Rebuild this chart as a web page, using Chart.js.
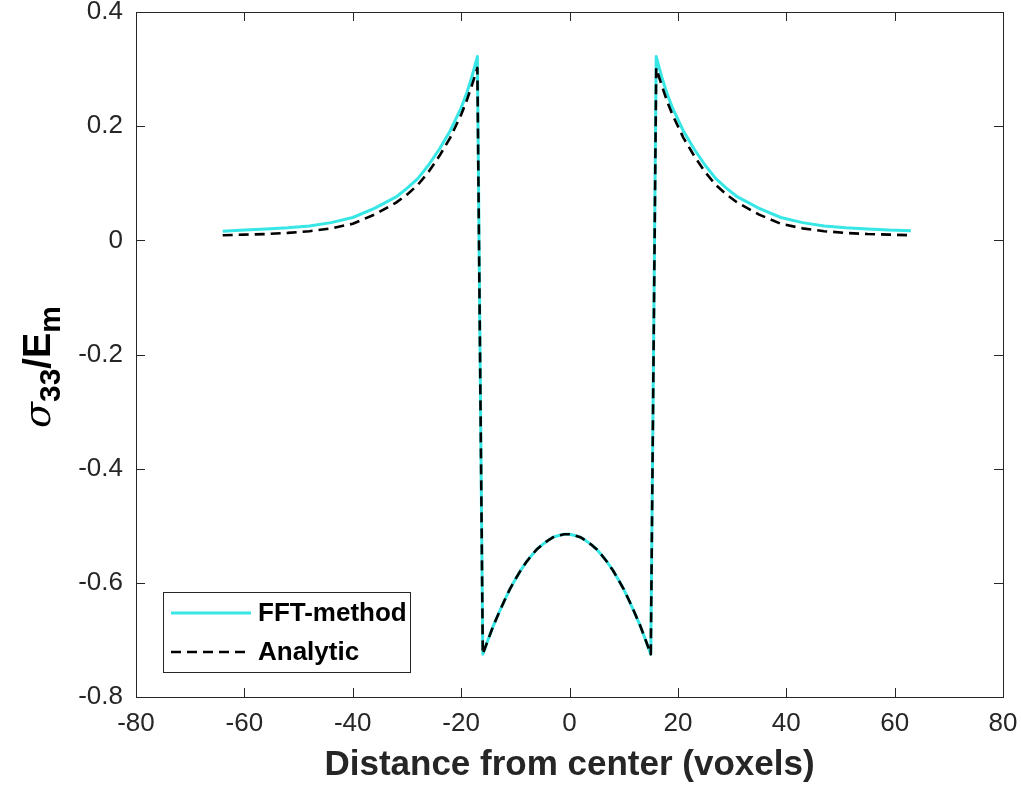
<!DOCTYPE html>
<html>
<head>
<meta charset="utf-8">
<script src="https://cdn.jsdelivr.net/npm/chart.js@4.4.1/dist/chart.umd.min.js"></script>
<style>
  html, body { margin: 0; padding: 0; background: #fff; }
</style>
</head>
<body>
<canvas id="stressChart" width="1021" height="791"></canvas>
<script>
// distance from the inclusion center, in voxels
const distance = [
  -64, -60, -56, -52, -48, -44, -40, -36, -32, -30, -28, -26, -24, -22, -20, -19, -18, -17,
  -16, -15, -14, -13, -12, -11, -10, -9, -8, -7, -6, -5, -4, -3, -2, -1,
  0, 1, 2, 3, 4, 5, 6, 7, 8, 9, 10, 11, 12, 13, 14, 15,
  16, 17, 18, 19, 21, 23, 25, 27, 29, 31, 35, 39, 43, 47, 51, 55, 59, 63
];

const fftMethod = [
  0.016, 0.018, 0.020, 0.022, 0.025, 0.031, 0.040, 0.056, 0.076, 0.091, 0.108, 0.132, 0.160, 0.192, 0.232, 0.257, 0.287, 0.322,
  -0.725, -0.699, -0.674, -0.652, -0.631, -0.611, -0.594, -0.578, -0.564, -0.552, -0.541, -0.533, -0.526, -0.520, -0.517, -0.515,
  -0.515, -0.517, -0.520, -0.526, -0.533, -0.541, -0.552, -0.564, -0.578, -0.594, -0.611, -0.631, -0.652, -0.674, -0.699, -0.725,
  0.322, 0.287, 0.257, 0.232, 0.192, 0.160, 0.132, 0.108, 0.091, 0.076, 0.056, 0.040, 0.031, 0.025, 0.022, 0.020, 0.018, 0.017
];

const analytic = [
  0.009, 0.010, 0.011, 0.013, 0.016, 0.021, 0.029, 0.045, 0.066, 0.080, 0.097, 0.120, 0.148, 0.180, 0.220, 0.244, 0.272, 0.302,
  -0.725, -0.699, -0.674, -0.652, -0.631, -0.611, -0.594, -0.578, -0.564, -0.552, -0.541, -0.533, -0.526, -0.520, -0.517, -0.515,
  -0.515, -0.517, -0.520, -0.526, -0.533, -0.541, -0.552, -0.564, -0.578, -0.594, -0.611, -0.631, -0.652, -0.674, -0.699, -0.725,
  0.302, 0.272, 0.244, 0.220, 0.180, 0.148, 0.120, 0.097, 0.080, 0.066, 0.045, 0.029, 0.021, 0.016, 0.013, 0.011, 0.010, 0.009
];

const seriesNames = ['FFT-method', 'Analytic'];

const xTicks = [-80, -60, -40, -20, 0, 20, 40, 60, 80];
const xTickLabels = ['-80', '-60', '-40', '-20', '0', '20', '40', '60', '80'];
const yTicks = [-0.8, -0.6, -0.4, -0.2, 0, 0.2, 0.4];
const yTickLabels = ['-0.8', '-0.6', '-0.4', '-0.2', '0', '0.2', '0.4'];

const axisColor = '#262626';
const tickFont = { family: "'Liberation Sans', Arial, sans-serif", size: 26 };

const toPoints = (ys) => distance.map((x, i) => ({ x: x, y: ys[i] }));

// MATLAB-like box with inward ticks on all four sides
const boxPlugin = {
  id: 'boxAxes',
  afterDraw(chart) {
    const { ctx, chartArea: a, scales } = chart;
    const len = 9;
    ctx.save();
    ctx.strokeStyle = axisColor;
    ctx.lineWidth = 1;
    ctx.beginPath();
    xTicks.forEach(v => {
      const px = Math.round(scales.x.getPixelForValue(v)) + 0.5;
      ctx.moveTo(px, a.bottom); ctx.lineTo(px, a.bottom - len);
      ctx.moveTo(px, a.top); ctx.lineTo(px, a.top + len);
    });
    yTicks.forEach(v => {
      const py = Math.round(scales.y.getPixelForValue(v)) + 0.5;
      ctx.moveTo(a.left, py); ctx.lineTo(a.left + len, py);
      ctx.moveTo(a.right, py); ctx.lineTo(a.right - len, py);
    });
    ctx.stroke();
    ctx.strokeRect(Math.round(a.left) + 0.5, Math.round(a.top) + 0.5,
      Math.round(a.right - a.left), Math.round(a.bottom - a.top));
    ctx.restore();
  }
};

// legend box in the lower left corner of the axes
const legendPlugin = {
  id: 'insideLegend',
  afterDraw(chart) {
    const { ctx, chartArea: a } = chart;
    const bx = a.left + 27, by = a.bottom - 105, bw = 247, bh = 80;
    ctx.save();
    ctx.fillStyle = '#fff';
    ctx.fillRect(bx, by, bw, bh);
    ctx.strokeStyle = axisColor;
    ctx.lineWidth = 1;
    ctx.strokeRect(bx + 0.5, by + 0.5, bw, bh);
    ctx.font = "bold 26px 'Liberation Sans', Arial, sans-serif";
    ctx.textBaseline = 'middle';
    chart.data.datasets.forEach((ds, i) => {
      const y = by + 21 + i * 39;
      ctx.beginPath();
      ctx.strokeStyle = ds.borderColor;
      ctx.lineWidth = ds.borderWidth;
      ctx.setLineDash(ds.borderDash || []);
      ctx.moveTo(bx + 8, y);
      ctx.lineTo(bx + 88, y);
      ctx.stroke();
      ctx.setLineDash([]);
      ctx.fillStyle = '#000';
      ctx.fillText(ds.label, bx + 95, y + 1);
    });
    ctx.restore();
  }
};

// y title: sigma_33 / E_m with subscripts
const yTitlePlugin = {
  id: 'yTitle',
  afterDraw(chart) {
    const { ctx } = chart;
    const parts = [
      { t: '\u03C3', font: "italic 38px 'DejaVu Serif', 'Liberation Serif', serif", dy: 0 },
      { t: '33', font: "bold 30px 'Liberation Sans', Arial, sans-serif", dy: 10 },
      { t: '/E', font: "bold 38px 'Liberation Sans', Arial, sans-serif", dy: 0 },
      { t: 'm', font: "bold 30px 'Liberation Sans', Arial, sans-serif", dy: 10 }
    ];
    ctx.save();
    let total = 0;
    parts.forEach(p => { ctx.font = p.font; p.w = ctx.measureText(p.t).width; total += p.w; });
    ctx.translate(50, 367);
    ctx.rotate(-Math.PI / 2);
    ctx.fillStyle = '#000';
    ctx.textBaseline = 'alphabetic';
    let u = -total / 2;
    parts.forEach(p => {
      ctx.font = p.font;
      ctx.fillText(p.t, u, p.dy);
      u += p.w;
    });
    ctx.restore();
  }
};

const ctx = document.getElementById('stressChart').getContext('2d');
const stressChart = new Chart(ctx, {
  type: 'line',
  data: {
    datasets: [{
      label: seriesNames[0],
      data: toPoints(fftMethod),
      borderColor: 'rgb(56, 230, 230)',
      borderWidth: 3,
      borderJoinStyle: 'round',
      pointRadius: 0,
      tension: 0,
      order: 1
    }, {
      label: seriesNames[1],
      data: toPoints(analytic),
      borderColor: '#000000',
      borderWidth: 2.6,
      borderDash: [10, 6],
      borderJoinStyle: 'round',
      pointRadius: 0,
      tension: 0,
      order: 0
    }]
  },
  options: {
    responsive: false,
    animation: false,
    devicePixelRatio: 1,
    layout: { padding: { left: 0, right: 18, top: 12, bottom: 0 } },
    plugins: {
      legend: { display: false },
      tooltip: { enabled: false }
    },
    scales: {
      x: {
        type: 'linear',
        min: -80,
        max: 80,
        afterBuildTicks: (scale) => { scale.ticks = xTicks.map(v => ({ value: v })); },
        afterFit: (scale) => { scale.height = 94; scale.paddingLeft = 0; scale.paddingRight = 0; },
        grid: { display: false, drawTicks: false },
        border: { display: false },
        ticks: {
          color: axisColor,
          font: tickFont,
          padding: 11,
          maxRotation: 0,
          callback: (value, index) => xTickLabels[index]
        },
        title: {
          display: true,
          text: 'Distance from center (voxels)',
          color: '#262626',
          font: { family: "'Liberation Sans', Arial, sans-serif", size: 35, weight: 'bold' },
          padding: { top: 0, bottom: 5 }
        }
      },
      y: {
        type: 'linear',
        min: -0.8,
        max: 0.4,
        afterBuildTicks: (scale) => { scale.ticks = yTicks.map(v => ({ value: v })); },
        afterFit: (scale) => { scale.width = 136; scale.paddingTop = 0; scale.paddingBottom = 0; },
        grid: { display: false, drawTicks: false },
        border: { display: false },
        ticks: {
          color: axisColor,
          font: tickFont,
          padding: 13,
          callback: (value, index) => yTickLabels[index]
        }
      }
    }
  },
  plugins: [boxPlugin, legendPlugin, yTitlePlugin]
});
</script>
</body>
</html>
